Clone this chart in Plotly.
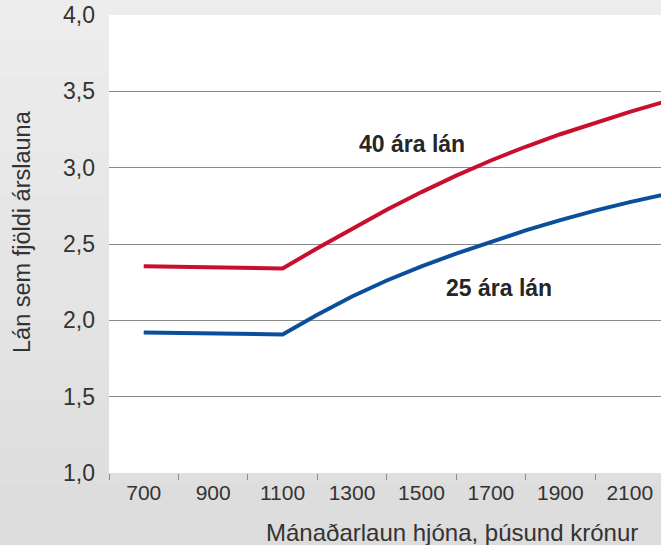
import plotly.graph_objects as go

# Monthly household income (thousand ISK)
income = [700, 800, 900, 1000, 1100, 1200, 1300, 1400, 1500, 1600,
          1700, 1800, 1900, 2000, 2100, 2200, 2300]

# Loan size as a multiple of annual income
loan_40yr = [2.355, 2.352, 2.35, 2.345, 2.34, 2.472, 2.601, 2.724, 2.840, 2.948,
             3.047, 3.137, 3.219, 3.295, 3.366, 3.432, 3.494]
loan_25yr = [1.92, 1.918, 1.915, 1.912, 1.908, 2.037, 2.156, 2.261, 2.354, 2.437,
             2.515, 2.589, 2.656, 2.719, 2.774, 2.826, 2.875]

x_label_vals = [700, 900, 1100, 1300, 1500, 1700, 1900, 2100]
x_tick_vals = [600, 800, 1000, 1200, 1400, 1600, 1800, 2000]
y_tick_vals = [1.0, 1.5, 2.0, 2.5, 3.0, 3.5, 4.0]

RED = "#c8102e"
BLUE = "#0b4f9c"
TXT = "#333333"
FONT = "Liberation Sans, Arial, sans-serif"

fig = go.Figure()
fig.add_trace(go.Scatter(x=income, y=loan_40yr, mode="lines",
                         line=dict(color=RED, width=4),
                         name="40 ára lán", showlegend=False))
fig.add_trace(go.Scatter(x=income, y=loan_25yr, mode="lines",
                         line=dict(color=BLUE, width=4),
                         name="25 ára lán", showlegend=False))

# soft vertical gradient behind the chart
shapes = []
n_bands = 14
top_c, bot_c = (237, 237, 237), (220, 220, 220)
for i in range(n_bands):
    t = i / (n_bands - 1)
    c = tuple(round(top_c[k] + (bot_c[k] - top_c[k]) * t) for k in range(3))
    shapes.append(dict(type="rect", xref="paper", yref="paper", layer="below",
                       x0=-0.3, x1=1.1,
                       y0=1.05 - (i + 1) * 1.25 / n_bands,
                       y1=1.05 - i * 1.25 / n_bands,
                       fillcolor="rgb(%d,%d,%d)" % c, line=dict(width=0)))
# white plotting area, kept under the gridlines
shapes.append(dict(type="rect", xref="x domain", yref="y domain", layer="below",
                   x0=0, x1=1, y0=0, y1=1, fillcolor="#ffffff",
                   line=dict(width=0)))

fig.update_layout(
    width=661, height=545,
    margin=dict(l=109, r=0, t=15, b=72),
    paper_bgcolor="#e6e6e6",
    plot_bgcolor="#ffffff",
    separators=", ",
    font=dict(family=FONT, color=TXT),
    shapes=shapes,
    xaxis=dict(
        range=[600, 2190],
        tickvals=x_label_vals,
        ticktext=[str(v) for v in x_label_vals],
        tickfont=dict(size=21, color=TXT),
        ticks="",
        ticklabelstandoff=5,
        showgrid=False, zeroline=False, showline=False,
        minor=dict(tickvals=x_tick_vals, ticks="outside", ticklen=6,
                   tickwidth=1, tickcolor="#8a8a8a", showgrid=False),
    ),
    yaxis=dict(
        range=[1.0, 4.0],
        tickvals=y_tick_vals,
        tickformat=".1f",
        tickfont=dict(size=23, color=TXT),
        ticks="",
        ticklabelstandoff=13,
        showgrid=True, gridcolor="#8c8c8c", gridwidth=1.3,
        zeroline=False, showline=False,
    ),
    annotations=[
        dict(text="<b>40 ára lán</b>", x=1473, y=3.155, xref="x", yref="y",
             xanchor="center", yanchor="middle", showarrow=False,
             font=dict(size=23, color="#262626", family=FONT)),
        dict(text="<b>25 ára lán</b>", x=1722, y=2.21, xref="x", yref="y",
             xanchor="center", yanchor="middle", showarrow=False,
             font=dict(size=23, color="#262626", family=FONT)),
        dict(text="Mánaðarlaun hjóna, þúsund krónur", x=0.621, y=-0.131,
             xref="paper", yref="paper", xanchor="center", yanchor="middle",
             showarrow=False, font=dict(size=24, color=TXT, family=FONT)),
        dict(text="Lán sem fjöldi árslauna", x=-0.158, y=0.528,
             xref="paper", yref="paper", xanchor="center", yanchor="middle",
             showarrow=False, textangle=-90,
             font=dict(size=23.5, color=TXT, family=FONT)),
    ],
)

fig.write_html("out.html")
